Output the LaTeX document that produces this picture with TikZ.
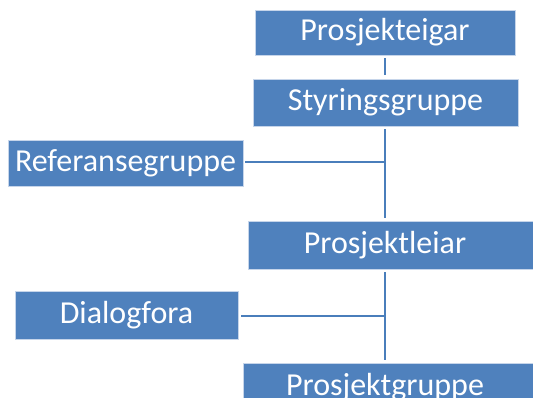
\documentclass[tikz,border=0pt]{standalone}
\usepackage{fontspec}
\setmainfont{Carlito}
\definecolor{boxblue}{HTML}{4F81BD}
\definecolor{edgeblue}{HTML}{C6D5EA}
\definecolor{lineblue}{HTML}{4A7EBB}
\begin{document}
\begin{tikzpicture}[x=1pt,y=-1pt,
  box/.style={rectangle, fill=boxblue, draw=edgeblue, line width=0.8pt, inner sep=0pt, text=white,
    font=\fontsize{32}{38}\selectfont},
  txt/.style={inner sep=0pt, text=white, font=\fontsize{32}{38}\selectfont},
  conn/.style={draw=lineblue, line width=1.8pt}]
\useasboundingbox (0,0) rectangle (533,398);
\clip (0,0) rectangle (533,398);
\node[box, minimum width=260, minimum height=45] (pe) at (385,32.5) {Prosjekteigar};
\node[box, minimum width=265, minimum height=47] (sg) at (385.5,102.5) {Styringsgruppe};
\node[box, minimum width=235, minimum height=46] (rg) at (125.5,163) {Referansegruppe};
\node[box, minimum width=297, minimum height=48] (pl) at (396.5,245) {};
\node[txt] (plt) at (385,245) {Prosjektleiar};
\node[box, minimum width=223, minimum height=48] (df) at (126.5,315) {Dialogfora};
\node[box, minimum width=302, minimum height=48] (pg) at (394,387) {};
\node[txt] (pgt) at (385,387) {Prosjektgruppe};
\coordinate (j1) at (385,162);
\coordinate (j2) at (385,316);
\draw[conn] ([yshift=-3pt]pe.south -| j1) -- ([yshift=4pt]sg.north -| j1);
\draw[conn] ([yshift=-3pt]sg.south -| j1) -- ([yshift=3pt]pl.north -| j1);
\draw[conn] ([xshift=2pt]rg.east |- j1) -- (j1);
\draw[conn] ([yshift=-3pt]pl.south -| j2) -- ([yshift=3pt]pg.north -| j2);
\draw[conn] ([xshift=3pt]df.east |- j2) -- (j2);
\end{tikzpicture}
\end{document}
